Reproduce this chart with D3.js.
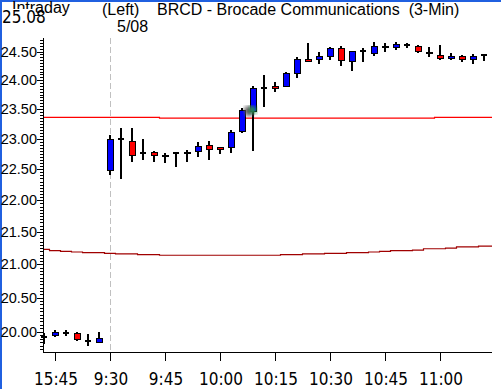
<!DOCTYPE html>
<html>
<head>
<meta charset="utf-8">
<script src="https://cdn.jsdelivr.net/npm/d3@7"></script>
<style>
  html, body { margin: 0; padding: 0; background: #fff; }
  svg { display: block; }
</style>
</head>
<body>
<svg id="chart" width="501" height="389"></svg>
<script>
// BRCD intraday 3-min candles (prior day close + 5/08 morning)
const times = ["15:42","15:45","15:48","15:51","15:54","15:57",
  "9:30","9:33","9:36","9:39","9:42","9:45","9:48","9:51","9:54","9:57",
  "10:00","10:03","10:06","10:09","10:12","10:15","10:18","10:21","10:24","10:27",
  "10:30","10:33","10:36","10:39","10:42","10:45","10:48","10:51","10:54","10:57",
  "11:00","11:03","11:06","11:09","11:12"];
const open  = [19.93,19.94,19.98,19.97,19.87,19.85,
  22.48,22.99,22.96,22.76,22.77,22.73,22.76,22.77,22.79,22.89,
  22.85,22.86,23.12,23.46,23.86,23.89,23.89,24.12,24.37,24.37,
  24.41,24.56,24.32,24.51,24.46,24.60,24.58,24.62,24.60,24.48,
  24.44,24.38,24.41,24.36,24.44];
const high  = [19.98,20.03,20.02,20.00,19.97,20.00,
  23.06,23.19,23.18,22.99,22.80,22.76,22.76,22.82,22.95,22.96,
  22.85,23.15,23.52,23.89,24.09,23.97,24.15,24.41,24.66,24.50,
  24.59,24.60,24.51,24.56,24.68,24.66,24.67,24.66,24.62,24.58,
  24.62,24.47,24.44,24.45,24.44];
const low   = [19.83,19.93,19.94,19.86,19.80,19.84,
  22.41,22.34,22.61,22.65,22.61,22.60,22.54,22.61,22.70,22.65,
  22.75,22.77,23.09,22.80,23.54,23.80,23.88,24.04,24.31,24.28,
  24.35,24.25,24.16,24.32,24.42,24.50,24.53,24.57,24.47,24.41,
  24.36,24.36,24.31,24.29,24.34];
const close = [19.93,19.99,19.98,19.89,19.87,19.90,
  22.99,22.99,22.73,22.76,22.73,22.72,22.76,22.75,22.87,22.83,
  22.83,23.11,23.47,23.86,23.86,23.85,24.12,24.37,24.32,24.41,
  24.56,24.34,24.51,24.51,24.60,24.58,24.62,24.62,24.50,24.46,
  24.38,24.42,24.37,24.41,24.44];

// two reference lines (red level, dark red average)
const upperLine = [23.36,23.36,23.36,23.36,23.36,23.36,23.36,23.36,23.36,23.36,23.36,
  23.35,23.35,23.35,23.35,23.35,23.35,23.35,23.35,23.35,23.35,23.35,23.35,23.35,23.35,
  23.35,23.35,23.35,23.35,23.35,23.35,23.35,23.35,23.35,23.35,23.35,
  23.36,23.36,23.36,23.36,23.36];
const lowerLine = [21.23,21.21,21.20,21.19,21.18,21.18,21.17,21.16,21.16,21.15,21.15,
  21.14,21.14,21.14,21.14,21.14,21.14,21.14,21.14,21.14,21.14,21.14,21.15,21.15,21.16,
  21.16,21.17,21.17,21.18,21.18,21.19,21.20,21.21,21.21,21.22,21.24,
  21.24,21.25,21.27,21.27,21.28];

const xTickLabels = ["15:45","9:30","9:45","10:00","10:15","10:30","10:45","11:00"];
const yTickLabels = ["20.00","20.50","21.00","21.50","22.00","22.50","23.00","23.50","24.00","24.50"];
const sessionStart = "9:30";

const svg = d3.select("#chart");
const pLeft = 43, pRight = 492, pTop = 38, pBottom = 352;

const x = d3.scalePoint().domain(times).range([44, 484]);
const y = d3.scaleLog().domain([19.709, 24.744]).range([pBottom, pTop]);

// frame border
svg.append("rect").attr("x", 0).attr("y", 0).attr("width", 501).attr("height", 2).attr("fill", "#2060e0");
svg.append("rect").attr("x", 0).attr("y", 0).attr("width", 2).attr("height", 389).attr("fill", "#2060e0");

// session divider
svg.append("line")
  .attr("x1", x(sessionStart) + 0.5).attr("x2", x(sessionStart) + 0.5)
  .attr("y1", pTop).attr("y2", pBottom)
  .attr("stroke", "#c0c0c0").attr("stroke-dasharray", "6,3");

// reference lines, stretched to plot edges
function edgePts(vals) {
  const pts = vals.map((v, i) => [x(times[i]), y(v)]);
  pts.unshift([pLeft, y(vals[0])]);
  pts.push([pRight, y(vals[vals.length - 1])]);
  return pts;
}
svg.append("path")
  .attr("d", d3.line().curve(d3.curveStep)(edgePts(upperLine)))
  .attr("fill", "none").attr("stroke", "#ff0000").attr("stroke-width", 1.2);
svg.append("path")
  .attr("d", d3.line().curve(d3.curveStep)(edgePts(lowerLine)))
  .attr("fill", "none").attr("stroke", "#a00000").attr("stroke-width", 1.2);

// candles
const bars = times.map((t, i) => ({t, o: open[i], h: high[i], l: low[i], c: close[i]}));
const g = svg.append("g").attr("shape-rendering", "crispEdges");
g.selectAll("line.wick").data(bars).enter().append("line")
  .attr("class", "wick")
  .attr("x1", d => x(d.t)).attr("x2", d => x(d.t))
  .attr("y1", d => y(d.h)).attr("y2", d => y(d.l))
  .attr("stroke", "#000").attr("stroke-width", 2);
g.selectAll("rect.body").data(bars.filter(d => d.o !== d.c)).enter().append("rect")
  .attr("class", "body")
  .attr("x", d => x(d.t) - 3)
  .attr("y", d => y(Math.max(d.o, d.c)))
  .attr("width", 6)
  .attr("height", d => Math.max(1, y(Math.min(d.o, d.c)) - y(Math.max(d.o, d.c))))
  .attr("fill", d => d.c > d.o ? "#0000ff" : "#ff0000")
  .attr("stroke", "#000").attr("stroke-width", 1);
g.selectAll("line.doji").data(bars.filter(d => d.o === d.c)).enter().append("line")
  .attr("class", "doji")
  .attr("x1", d => x(d.t) - 3).attr("x2", d => x(d.t) + 3)
  .attr("y1", d => y(d.o)).attr("y2", d => y(d.o))
  .attr("stroke", "#000").attr("stroke-width", 2);

// y axis: major labelled ticks + minor ticks every 0.05
const yAxis = svg.append("g").attr("shape-rendering", "crispEdges");
yAxis.append("line").attr("x1", pLeft + 0.5).attr("x2", pLeft + 0.5).attr("y1", pTop).attr("y2", pBottom + 1).attr("stroke", "#000");
const minor = d3.range(1975, 2475, 5).map(v => v / 100);
yAxis.selectAll("line.minor").data(minor).enter().append("line")
  .attr("x1", pLeft - 3).attr("x2", pLeft)
  .attr("y1", d => Math.round(y(d)) + 0.5).attr("y2", d => Math.round(y(d)) + 0.5)
  .attr("stroke", "#000");
yAxis.selectAll("line.major").data(yTickLabels).enter().append("line")
  .attr("x1", pLeft - 6).attr("x2", pLeft)
  .attr("y1", d => Math.round(y(+d)) + 0.5).attr("y2", d => Math.round(y(+d)) + 0.5)
  .attr("stroke", "#000");
svg.append("g").selectAll("text").data(yTickLabels).enter().append("text")
  .attr("x", 37).attr("y", d => y(+d) + 5)
  .attr("text-anchor", "end")
  .attr("font-family", "'Liberation Sans', Arial, sans-serif").attr("font-size", 14.5)
  .text(d => d);

// x axis
const xAxis = svg.append("g").attr("shape-rendering", "crispEdges");
xAxis.append("line").attr("x1", pLeft).attr("x2", pRight).attr("y1", pBottom + 0.5).attr("y2", pBottom + 0.5).attr("stroke", "#000");
xAxis.selectAll("line.tick").data(xTickLabels).enter().append("line")
  .attr("x1", d => x(d) + 0.5).attr("x2", d => x(d) + 0.5)
  .attr("y1", pBottom).attr("y2", pBottom + 9)
  .attr("stroke", "#000");
svg.append("g").selectAll("text").data(xTickLabels).enter().append("text")
  .attr("x", d => x(d) + 1).attr("y", 385)
  .attr("text-anchor", "middle")
  .attr("font-family", "'Liberation Sans Narrow', 'DejaVu Sans Condensed', sans-serif").attr("font-size", 17)
  .text(d => d);

// cursor marker
const defs = svg.append("defs");
defs.append("filter").attr("id", "blur").append("feGaussianBlur").attr("stdDeviation", 2);
svg.append("circle").attr("cx", 249).attr("cy", 111).attr("r", 5).attr("fill", "#555").attr("filter", "url(#blur)");
svg.append("circle").attr("cx", 253).attr("cy", 110).attr("r", 3.5).attr("fill", "#1a9a50").attr("filter", "url(#blur)");

// header texts ("25.08" sits on a white box over "Intraday", as in the original)
const hdrFont = "'Liberation Sans', Arial, sans-serif";
svg.append("text").attr("x", 12).attr("y", 13).attr("font-family", hdrFont).attr("font-size", 16).text("Intraday");
svg.append("rect").attr("x", 2).attr("y", 9).attr("width", 33).attr("height", 16).attr("fill", "#fff");
svg.append("text").attr("x", 2).attr("y", 23).attr("font-family", "'Liberation Sans Narrow', 'DejaVu Sans Condensed', sans-serif").attr("font-size", 17).text("25.08");
svg.append("line").attr("x1", 35).attr("x2", 40).attr("y1", 15.5).attr("y2", 15.5).attr("stroke", "#000");
svg.append("text").attr("x", 102).attr("y", 15).attr("font-family", hdrFont).attr("font-size", 16).text("(Left)");
svg.append("text").attr("x", 117).attr("y", 32).attr("font-family", hdrFont).attr("font-size", 16).text("5/08");
svg.append("text").attr("x", 157).attr("y", 15).attr("font-family", hdrFont).attr("font-size", 16)
  .attr("xml:space", "preserve").text("BRCD - Brocade Communications  (3-Min)");
</script>
</body>
</html>
